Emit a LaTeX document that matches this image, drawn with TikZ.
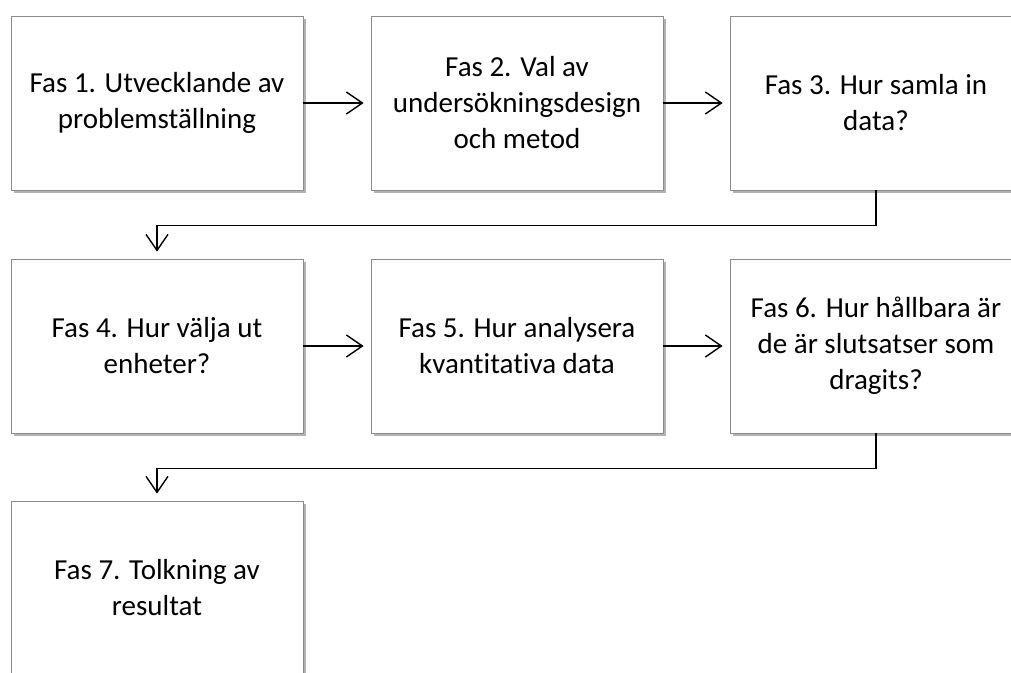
\documentclass[tikz,border=0pt]{standalone}
\usepackage{fontspec}
\setmainfont{Carlito}[Ligatures=NoCommon]
\usetikzlibrary{arrows.meta,shadows}
\begin{document}
\begin{tikzpicture}[x=1pt,y=-1pt,
  fas/.style={draw=black!45, line width=0.8pt, fill=white, minimum width=292pt, minimum height=174pt,
    align=center, inner sep=0pt, font=\fontsize{29}{36}\selectfont,
    drop shadow={shadow xshift=2.5pt, shadow yshift=-3pt, fill=black, opacity=0.3}},
  flow/.style={line width=1.4pt, -{Straight Barb[length=16pt,width=22pt,line width=1.4pt]}, shorten >=7pt}]
\useasboundingbox (0,0) rectangle (1011,672);
\clip (0,0) rectangle (1011,672);
\fill[white] (0,0) rectangle (1011,672);
\node[fas] (b1) at (157,103) {Fas 1. Utvecklande av\\problemställning};
\node[fas] (b2) at (517,103) {Fas 2. Val av\\undersökningsdesign\\och metod};
\node[fas] (b3) at (876,103) {Fas 3. Hur samla in\\data?};
\node[fas] (b4) at (157,346) {Fas 4. Hur välja ut\\enheter?};
\node[fas] (b5) at (517,346) {Fas 5. Hur analysera\\kvantitativa data};
\node[fas] (b6) at (876,346) {Fas 6. Hur hållbara är\\de är slutsatser som\\dragits?};
\node[fas] (b7) at (157,588) {Fas 7. Tolkning av\\resultat};
\draw[flow] (b1) -- (b2);
\draw[flow] (b2) -- (b3);
\draw[flow] (b4) -- (b5);
\draw[flow] (b5) -- (b6);
\draw[flow] (b3.south) -- ++(0,35) -| (b4.north);
\draw[flow] (b6.south) -- ++(0,35) -| (b7.north);
\end{tikzpicture}
\end{document}
